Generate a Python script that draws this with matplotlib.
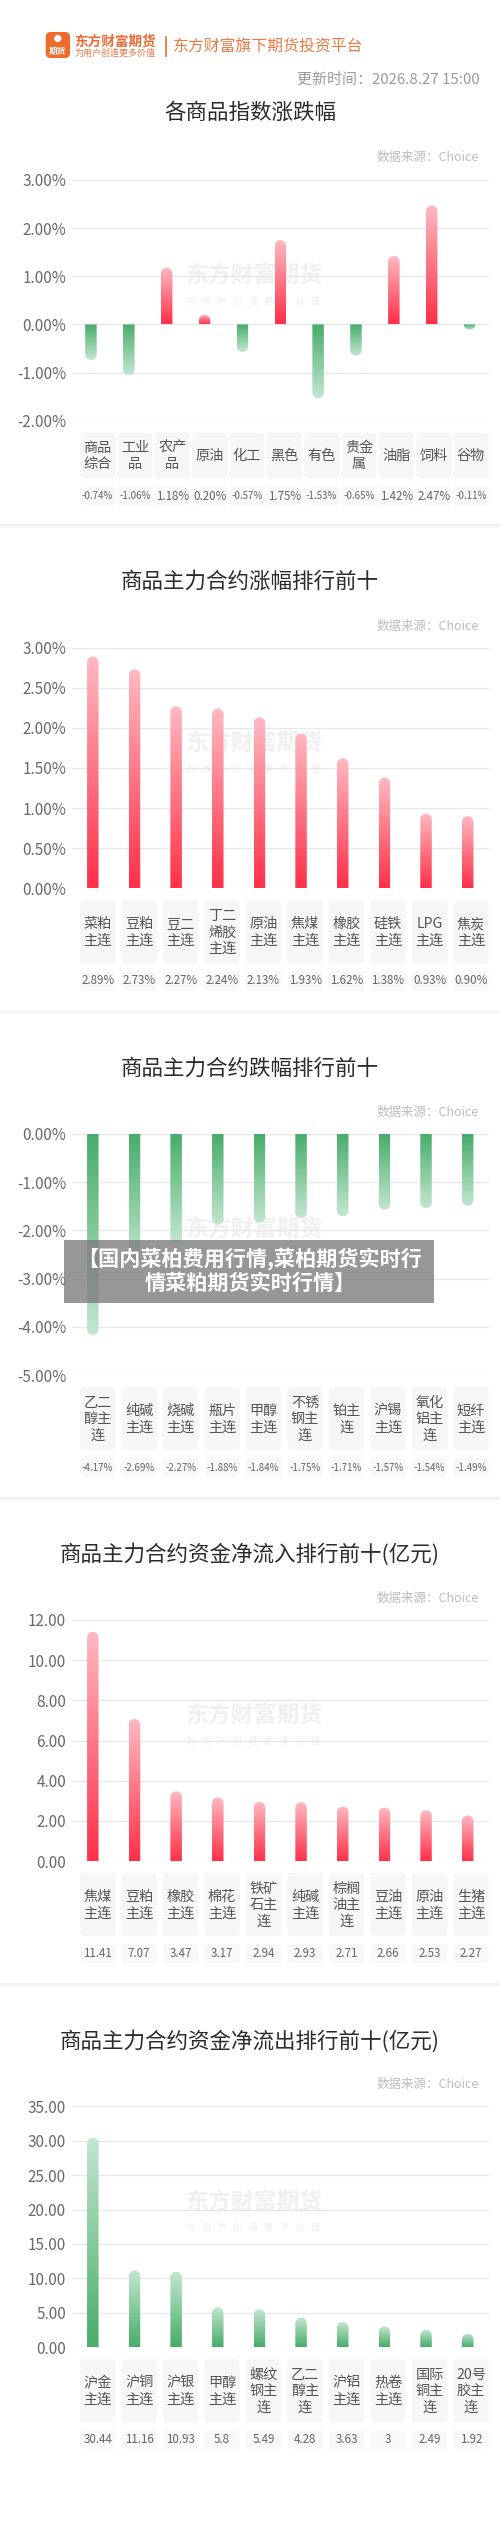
import numpy as np
import matplotlib
matplotlib.use("Agg")
import matplotlib.pyplot as plt
from matplotlib.path import Path
from matplotlib.patches import PathPatch, FancyBboxPatch, Rectangle, Circle
from matplotlib.colors import LinearSegmentedColormap

plt.rcParams['font.family'] = ['Noto Sans CJK SC', 'DejaVu Sans']

# ---------------- data ----------------
idx_cats = ['商品综合', '工业品', '农产品', '原油', '化工', '黑色', '有色', '贵金属', '油脂', '饲料', '谷物']
idx_vals = [-0.74, -1.06, 1.18, 0.20, -0.57, 1.75, -1.53, -0.65, 1.42, 2.47, -0.11]

up_cats = ['菜粕主连', '豆粕主连', '豆二主连', '丁二烯胶主连', '原油主连', '焦煤主连', '橡胶主连', '硅铁主连', 'LPG主连', '焦炭主连']
up_vals = [2.89, 2.73, 2.27, 2.24, 2.13, 1.93, 1.62, 1.38, 0.93, 0.90]

down_cats = ['乙二醇主连', '纯碱主连', '烧碱主连', '瓶片主连', '甲醇主连', '不锈钢主连', '铂主连', '沪锡主连', '氧化铝主连', '短纤主连']
down_vals = [-4.17, -2.69, -2.27, -1.88, -1.84, -1.75, -1.71, -1.57, -1.54, -1.49]

in_cats = ['焦煤主连', '豆粕主连', '橡胶主连', '棉花主连', '铁矿石主连', '纯碱主连', '棕榈油主连', '豆油主连', '原油主连', '生猪主连']
in_vals = [11.41, 7.07, 3.47, 3.17, 2.94, 2.93, 2.71, 2.66, 2.53, 2.27]

out_cats = ['沪金主连', '沪铜主连', '沪银主连', '甲醇主连', '螺纹钢主连', '乙二醇主连', '沪铝主连', '热卷主连', '国际铜主连', '20号胶主连']
out_vals = [30.44, 11.16, 10.93, 5.8, 5.49, 4.28, 3.63, 3, 2.49, 1.92]

idx_ticks = [-2, -1, 0, 1, 2, 3]
up_ticks = [0, 0.5, 1, 1.5, 2, 2.5, 3]
down_ticks = [-5, -4, -3, -2, -1, 0]
in_ticks = [0, 2, 4, 6, 8, 10, 12]
out_ticks = [0, 5, 10, 15, 20, 25, 30, 35]

update_text = '更新时间：2026.8.27 15:00'
source_text = '数据来源：Choice'
banner_lines = ['【国内菜柏费用行情,菜柏期货实时行', '情菜粕期货实时行情】']

# ---------------- figure ----------------
W, H = 500, 2543
fig = plt.figure(figsize=(W / 100, H / 100), dpi=100)
fig.patch.set_facecolor('white')

bg = fig.add_axes([0, 0, 1, 1], zorder=0)
bg.set_xlim(0, W)
bg.set_ylim(H, 0)
bg.axis('off')

RED = ('#ff3048', '#ffb9c2')
GREEN = ('#47ac69', '#c3e7d0')

AX_L, AX_R = 72, 488.5


def wrap(s, maxw=2.0):
    lines, cur, w = [], '', 0.0
    for ch in s:
        cw = 0.5 if ord(ch) < 128 else 1.0
        if w + cw > maxw and cur:
            lines.append(cur)
            cur, w = '', 0.0
        cur += ch
        w += cw
    if cur:
        lines.append(cur)
    return lines


def grad_bars(ax, values, colors, top_px, bot_px, width_px=11.5):
    n = len(values)
    ax.set_xlim(-0.5, n - 0.5)
    y0, y1 = ax.get_ylim()
    ppx = (AX_R - AX_L) / n
    ppy = (bot_px - top_px) / (y1 - y0)
    w = width_px / ppx
    r_px = width_px / 2
    grad = np.linspace(0, 1, 256).reshape(-1, 1)
    for i, v in enumerate(values):
        c = colors if colors is not None else (RED if v >= 0 else GREEN)
        cmap = LinearSegmentedColormap.from_list('g', [c[0], c[1]])
        sgn = 1 if v >= 0 else -1
        L = abs(v) * ppy
        ry = min(r_px, L) / ppy
        rx = w / 2
        th = np.linspace(np.pi, 0, 40)
        cx = i + rx * np.cos(th)
        cy = v - sgn * ry + sgn * ry * np.sin(th)
        verts = [(i - rx, 0)] + list(zip(cx, cy)) + [(i + rx, 0), (i - rx, 0)]
        codes = [Path.MOVETO] + [Path.LINETO] * (len(verts) - 2) + [Path.CLOSEPOLY]
        patch = PathPatch(Path(verts, codes), facecolor='none', edgecolor='none',
                          transform=ax.transData)
        ax.add_patch(patch)
        im = ax.imshow(grad, cmap=cmap, extent=[i - rx, i + rx, 0, v], origin='lower',
                       aspect='auto', interpolation='bilinear', zorder=3)
        im.set_clip_path(patch)
    ax.set_xlim(-0.5, n - 0.5)
    ax.set_ylim(y0, y1)


def watermark(cy, small=True):
    bg.text(254, cy - 24, '东方财富期货', ha='center', va='center', fontsize=16.5,
            fontweight='bold', color='#f0f0f0', zorder=1)
    if small:
        chars = '为用户创造更多价值'
        for k, ch in enumerate(chars):
            bg.text(190.5 + k * 15.6, cy + 1, ch, ha='center', va='center', fontsize=6.5,
                    color='#eeeeee', zorder=1)


def chart(title, title_y, ds_y, top_px, bot_px, cats, vals, ticks, tick_fmt, val_fmt, colors, maxlines,
          small_wm=True):
    watermark((top_px + bot_px) / 2, small_wm)
    bg.text(250, title_y, title, ha='center', va='center', fontsize=15.5, color='#2b2b2b')
    bg.text(479, ds_y, source_text, ha='right', va='center', fontsize=9, color='#bdbdbd')
    ax = fig.add_axes([AX_L / W, 1 - bot_px / H, (AX_R - AX_L) / W, (bot_px - top_px) / H], zorder=2)
    ax.set_facecolor('none')
    ax.set_ylim(min(ticks), max(ticks))
    ax.set_yticks(ticks)
    ax.set_yticklabels([tick_fmt(t) for t in ticks])
    ax.tick_params(axis='y', length=0, pad=4.3, labelsize=11, labelcolor='#6a6a6a')
    ax.set_xticks([])
    for s in ax.spines.values():
        s.set_visible(False)
    ax.yaxis.grid(True, color='#e7e7e7', lw=1.0)
    ax.set_axisbelow(True)
    grad_bars(ax, vals, colors, top_px, bot_px)

    # label table
    n = len(cats)
    bw = 35.3
    slot = (488.7 - 80 - bw) / (n - 1)
    lb_top = bot_px + 12
    lb_h = 11 + 17.4 * maxlines
    vb_top = lb_top + lb_h + 8
    vb_h = 19
    for i, (c, v) in enumerate(zip(cats, vals)):
        left = 80 + i * slot
        bg.add_patch(FancyBboxPatch((left, lb_top), bw, lb_h,
                                    boxstyle='round,pad=0,rounding_size=4',
                                    fc='#f6f6f6', ec='none', zorder=1))
        bg.add_patch(FancyBboxPatch((left, vb_top), bw, vb_h,
                                    boxstyle='round,pad=0,rounding_size=4',
                                    fc='#f8f8f8', ec='none', zorder=1))
        bg.text(left + bw / 2, lb_top + lb_h / 2 + 0.5, '\n'.join(wrap(c)), ha='center', va='center',
                fontsize=10.2, color='#555555', linespacing=1.22, zorder=2)
        s = val_fmt(v)
        fs = 7.0 if s.startswith('-') else 8.3
        bg.text(left + bw / 2, vb_top + vb_h / 2, s, ha='center', va='center',
                fontsize=fs, color='#666666', zorder=2)
    return ax


pct = lambda t: f'{t:.2f}%'
num = lambda t: f'{t:.2f}'
gfmt = lambda v: f'{v:g}'

# ---------------- header ----------------
bg.add_patch(FancyBboxPatch((45.7, 32), 24.3, 26, boxstyle='round,pad=0,rounding_size=5',
                            fc='#f06a2c', ec='none', zorder=2))
bg.add_patch(Circle((57.8, 38.5), 3.6, fc='white', ec='none', zorder=3))
bg.text(57.8, 51, '期货', ha='center', va='center', fontsize=6.3, fontweight='bold', color='white', zorder=3)
bg.text(74, 41.5, '东方财富期货', ha='left', va='center', fontsize=9.8, fontweight='bold', color='#ea6b34')
bg.text(74.5, 53.5, '为用户创造更多价值', ha='left', va='center', fontsize=6.5, color='#ea7a44')
bg.plot([165.7, 165.7], [36.7, 56], color='#ea7a44', lw=1.3)
bg.text(173, 46.5, '东方财富旗下期货投资平台', ha='left', va='center', fontsize=11.4, color='#ea7a44')
bg.text(480, 80, update_text, ha='right', va='center', fontsize=10.8, color='#9a9a9a')

# ---------------- charts ----------------
ax1 = chart('各商品指数涨跌幅', 113.3, 157.7, 180, 420.7, idx_cats, idx_vals, idx_ticks, pct, pct,
            None, 2)
ax2 = chart('商品主力合约涨幅排行前十', 581.7, 626, 647.7, 888.3, up_cats, up_vals, up_ticks, pct, pct,
            RED, 3)
ax3 = chart('商品主力合约跌幅排行前十', 1068.3, 1112.7, 1134, 1375, down_cats, down_vals, down_ticks, pct, pct,
            GREEN, 3, small_wm=False)
ax4 = chart('商品主力合约资金净流入排行前十(亿元)', 1554.7, 1598.8, 1620, 1861, in_cats, in_vals, in_ticks, num, gfmt,
            RED, 3)
ax5 = chart('商品主力合约资金净流出排行前十(亿元)', 2041, 2084.8, 2106.4, 2347, out_cats, out_vals, out_ticks, num, gfmt,
            GREEN, 3)

# separators
for y in [525, 1011.7, 1498, 1984]:
    bg.plot([0, W], [y, y], color='#ededed', lw=1.2, zorder=1)
    bg.plot([0, W], [y + 1.5, y + 1.5], color='#f7f7f7', lw=1.5, zorder=1)

# ---------------- banner overlay ----------------
top = fig.add_axes([0, 0, 1, 1], zorder=20)
top.set_xlim(0, W)
top.set_ylim(H, 0)
top.axis('off')
top.patch.set_alpha(0)
top.add_patch(Rectangle((64, 1240), 370, 62.7, fc='#7d7d7d', ec='none', alpha=0.8))
top.text(250, 1258.5, banner_lines[0], ha='center', va='center', fontsize=15.2, fontweight='bold', color='white')
top.text(250, 1283.5, banner_lines[1], ha='center', va='center', fontsize=15.2, fontweight='bold', color='white')

fig.savefig('out.png', dpi=100, facecolor='white')
